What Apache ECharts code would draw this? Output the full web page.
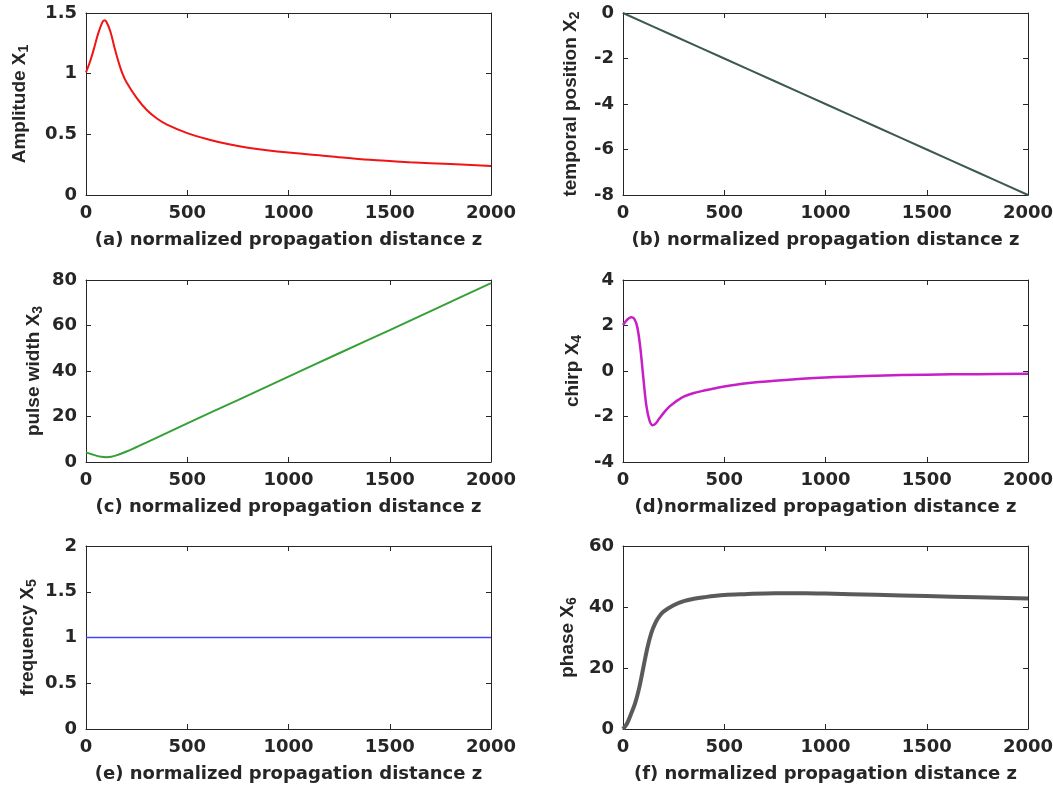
<!DOCTYPE html>
<html>
<head>
<meta charset="utf-8">
<script src="https://cdn.jsdelivr.net/npm/echarts@6/dist/echarts.min.js"></script>
<style>
  html, body { margin: 0; padding: 0; background: #fff; }
  #main { width: 1053px; height: 787px; }
</style>
</head>
<body>
<div id="main"></div>
<script>
// values
var xTicks = [0, 500, 1000, 1500, 2000];

var zAmp = [0, 20, 40, 60, 80, 90, 100, 120, 140, 160, 180, 200, 250, 300, 350, 400, 500, 600, 700, 800, 1000, 1200, 1400, 1600, 1800, 2000];
var amplitude = [1.01, 1.1, 1.21, 1.33, 1.42, 1.44, 1.43, 1.35, 1.22, 1.1, 1.0, 0.93, 0.8, 0.7, 0.63, 0.58, 0.51, 0.46, 0.42, 0.39, 0.35, 0.32, 0.29, 0.27, 0.255, 0.24];

var zPos = [0, 250, 500, 750, 1000, 1250, 1500, 1750, 2000];
var position = [0, -1, -2, -3, -4, -5, -6, -7, -8];

var zWidth = [0, 25, 50, 75, 100, 125, 150, 200, 250, 300, 400, 500, 750, 1000, 1250, 1500, 1750, 2000];
var pulseWidth = [4.2, 3.5, 2.8, 2.3, 2.1, 2.3, 2.9, 4.6, 6.6, 8.6, 12.8, 17.0, 27.2, 37.5, 47.8, 58.0, 68.3, 78.6];

var zChirp = [0, 20, 40, 55, 70, 85, 100, 115, 130, 145, 160, 180, 200, 225, 250, 275, 300, 350, 400, 450, 500, 600, 750, 1000, 1250, 1500, 1750, 2000];
var chirp = [2.02, 2.25, 2.36, 2.3, 1.95, 1.06, -0.26, -1.5, -2.15, -2.38, -2.32, -2.08, -1.85, -1.6, -1.42, -1.26, -1.13, -0.97, -0.86, -0.77, -0.68, -0.55, -0.43, -0.29, -0.21, -0.16, -0.14, -0.12];

var zFreq = [0, 500, 1000, 1500, 2000];
var frequency = [1, 1, 1, 1, 1];

var zPhase = [0, 20, 40, 60, 80, 100, 120, 140, 160, 180, 200, 250, 300, 350, 400, 500, 600, 750, 900, 1000, 1250, 1500, 1750, 2000];
var phase = [0, 1.8, 5.0, 8.5, 13.5, 20, 26.5, 31.5, 34.8, 37, 38.5, 40.6, 41.9, 42.7, 43.2, 43.9, 44.2, 44.5, 44.5, 44.4, 44.0, 43.6, 43.2, 42.8];

function pairs(xs, ys) {
  return xs.map(function(x, i) { return [x, ys[i]]; });
}

var FONT = 'DejaVu Sans, Liberation Sans, Arial, sans-serif';
var NAME_FONT = 'Liberation Sans, Arial, sans-serif';
var INK = '#262626';

var panels = [
  { left: 86, top: 13, height: 182, ymin: 0, ymax: 1.5, yint: 0.5, yname: 'Amplitude X{s|1}', gap: 55,
    xname: '(a) normalized propagation distance z', data: pairs(zAmp, amplitude), color: '#f01414', width: 2 },
  { left: 623, top: 13, height: 182, ymin: -8, ymax: 0, yint: 2, yname: 'temporal position X{s|2}', gap: 41,
    xname: '(b) normalized propagation distance z', data: pairs(zPos, position), color: '#3b5a4c', width: 2 },
  { left: 86, top: 280, height: 182, ymin: 0, ymax: 80, yint: 20, yname: 'pulse width X{s|3}', gap: 41,
    xname: '(c) normalized propagation distance z', data: pairs(zWidth, pulseWidth), color: '#35a035', width: 2 },
  { left: 623, top: 280, height: 182, ymin: -4, ymax: 4, yint: 2, yname: 'chirp X{s|4}', gap: 39,
    xname: '(d)normalized propagation distance z', data: pairs(zChirp, chirp), color: '#c81ec8', width: 2.5 },
  { left: 86, top: 546, height: 183, ymin: 0, ymax: 2, yint: 0.5, yname: 'frequency X{s|5}', gap: 47,
    xname: '(e) normalized propagation distance z', data: pairs(zFreq, frequency), color: '#4646f0', width: 1.5 },
  { left: 623, top: 546, height: 183, ymin: 0, ymax: 60, yint: 20, yname: 'phase X{s|6}', gap: 44,
    xname: '(f) normalized propagation distance z', data: pairs(zPhase, phase), color: '#5a5a5a', width: 4 }
];

var grids = [], xAxes = [], yAxes = [], series = [];

var lineStyle = { color: INK, width: 1 };
var axisLine = { show: true, onZero: false, lineStyle: lineStyle };
var tickIn = { show: true, inside: true, length: 5, lineStyle: { color: INK } };
var labelStyle = { fontFamily: FONT, fontWeight: 'bold', fontSize: 18, color: INK };
function plain(v) { return String(v); }

panels.forEach(function(p, i) {
  grids.push({ left: p.left, top: p.top, width: 405, height: p.height, outerBoundsMode: 'none' });

  xAxes.push({
    type: 'value', gridIndex: i, position: 'bottom', min: 0, max: 2000, interval: 500,
    axisLine: axisLine, axisTick: tickIn, splitLine: { show: false },
    axisLabel: Object.assign({ margin: 9, showMinLabel: true, showMaxLabel: true, formatter: plain }, labelStyle),
    name: p.xname, nameLocation: 'middle', nameGap: 36,
    nameTextStyle: { fontFamily: FONT, fontWeight: 'bold', fontSize: 18, color: INK }
  });
  xAxes.push({
    type: 'value', gridIndex: i, position: 'top', min: 0, max: 2000, interval: 500,
    axisLine: axisLine, axisTick: tickIn, splitLine: { show: false },
    axisLabel: { show: false }
  });

  yAxes.push({
    type: 'value', gridIndex: i, position: 'left', min: p.ymin, max: p.ymax, interval: p.yint,
    axisLine: axisLine, axisTick: tickIn, splitLine: { show: false },
    axisLabel: Object.assign({ margin: 9, showMinLabel: true, showMaxLabel: true, formatter: plain }, labelStyle),
    name: p.yname, nameLocation: 'middle', nameGap: p.gap,
    nameTextStyle: {
      fontFamily: NAME_FONT, fontWeight: 'bold', fontSize: 19, color: INK,
      rich: { s: { fontFamily: NAME_FONT, fontWeight: 'bold', fontSize: 14, color: INK, verticalAlign: 'bottom', padding: [9, 0, 0, 0] } }
    }
  });
  yAxes.push({
    type: 'value', gridIndex: i, position: 'right', min: p.ymin, max: p.ymax, interval: p.yint,
    axisLine: axisLine, axisTick: tickIn, splitLine: { show: false },
    axisLabel: { show: false }
  });

  series.push({
    type: 'line', xAxisIndex: 2 * i, yAxisIndex: 2 * i, data: p.data,
    showSymbol: false, smooth: 0.35, animation: false,
    lineStyle: { color: p.color, width: p.width }
  });
});

var chart = echarts.init(document.getElementById('main'));
chart.setOption({
  animation: false,
  backgroundColor: '#ffffff',
  grid: grids,
  xAxis: xAxes,
  yAxis: yAxes,
  series: series
});
</script>
</body>
</html>
